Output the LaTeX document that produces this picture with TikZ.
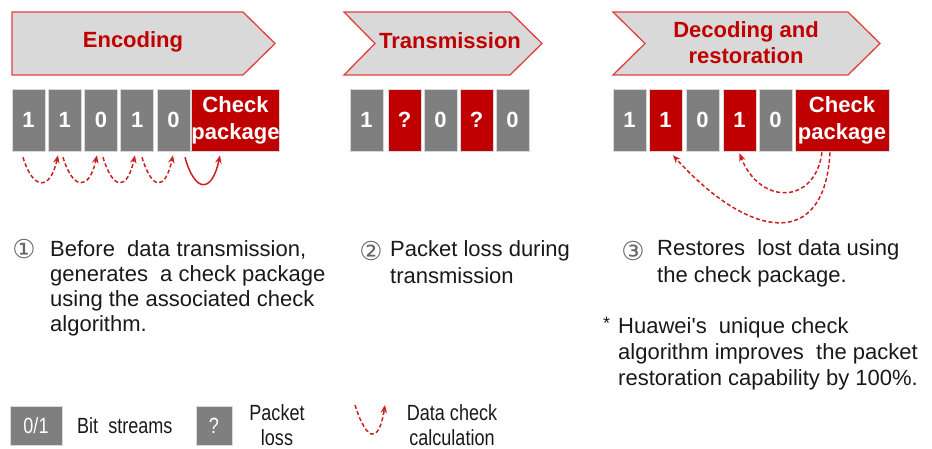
\documentclass[tikz,border=0pt]{standalone}
\usepackage{fontspec}
\setmainfont{Liberation Sans}
\newfontfamily\symfont{DejaVu Sans}
\newfontfamily\narrowfont[FakeStretch=0.82]{Liberation Sans}
\usetikzlibrary{arrows.meta}
\definecolor{hwred}{HTML}{C00000}
\definecolor{hwgray}{HTML}{7F7F7F}
\definecolor{hdrfill}{HTML}{D9D9D9}
\definecolor{hdrline}{HTML}{E04040}
\definecolor{linkred}{HTML}{CC1F1F}
\begin{document}
\begin{tikzpicture}[x=1pt,y=-1pt,
  hdr/.style={fill=hdrfill,draw=hdrline,line width=1.3pt,line join=miter},
  hdrtext/.style={text=hwred,font=\fontsize{22}{26}\selectfont\bfseries,align=center,inner sep=0pt},
  cell/.style={minimum width=33pt,minimum height=62pt,inner sep=0pt,text=white,
    font=\fontsize{22}{27}\selectfont\bfseries,draw=white!85!black,line width=0.6pt,align=center},
  bitcell/.style={cell,fill=hwgray},
  losscell/.style={cell,fill=hwred},
  body/.style={font=\fontsize{22}{25}\selectfont,align=left,inner sep=0pt,anchor=north west,text=black!90},
  num/.style={font=\symfont\fontsize{26}{26}\selectfont,text=black!60,inner sep=0pt},
  legendtext/.style={font=\narrowfont\fontsize{22}{25}\selectfont,align=center,inner sep=0pt,text=black!90},
  calc/.style={draw=linkred,line width=1.5pt,dash pattern=on 4pt off 2.5pt,
    -{Stealth[length=8pt,width=6.5pt]}},
]
\useasboundingbox (0,0) rectangle (932,449);

% ---------- stage banners ----------
\draw[hdr] (12,12) -- (243,12) -- (275,43.5) -- (243,75) -- (12,75) -- cycle;
\node[hdrtext,anchor=base] (encT) at (133,48) {Encoding};

\draw[hdr] (344,12) -- (510,12) -- (542,43.5) -- (510,75) -- (344,75) -- (375,43.5) -- cycle;
\node[hdrtext,anchor=base] (traT) at (450,49) {Transmission};

\draw[hdr] (613,12) -- (848,12) -- (880,43.5) -- (848,75) -- (613,75) -- (645,43.5) -- cycle;
\node[hdrtext,anchor=north] (decT) at (746,21) {Decoding and\\restoration};

% ---------- encoding row ----------
\node[bitcell] (e1) at (28.5,120) {1};
\node[bitcell] (e2) at (64.75,120) {1};
\node[bitcell] (e3) at (101,120) {0};
\node[bitcell] (e4) at (137.25,120) {1};
\node[bitcell] (e5) at (173.5,120) {0};
\node[losscell,minimum width=85pt] (e6) at (235.5,120) {Check\\package};

\draw[calc] ([xshift=-5.5pt,yshift=-6pt]e1.south) .. controls +(10,33) and +(-8,36) .. ([xshift=-6.75pt,yshift=-4pt]e2.south);
\draw[calc] ([xshift=-1.75pt,yshift=-6pt]e2.south) .. controls +(10,33) and +(-8,36) .. ([xshift=-4pt,yshift=-4pt]e3.south);
\draw[calc] ([xshift=2pt,yshift=-6pt]e3.south) .. controls +(10,33) and +(-8,36) .. ([xshift=-2.25pt,yshift=-4pt]e4.south);
\draw[calc] ([xshift=4.75pt,yshift=-6pt]e4.south) .. controls +(10,33) and +(-8,36) .. ([xshift=-0.5pt,yshift=-4pt]e5.south);
\draw[calc,solid] ([xshift=11.5pt,yshift=-6pt]e5.south) .. controls +(10,36) and +(-8,38) .. ([xshift=-15.5pt,yshift=-4pt]e6.south);

% ---------- transmission row ----------
\node[bitcell] (t1) at (366.5,120) {1};
\node[losscell] (t2) at (404.5,120) {?};
\node[bitcell] (t3) at (440.5,120) {0};
\node[losscell] (t4) at (476.5,120) {?};
\node[bitcell] (t5) at (512.5,120) {0};

% ---------- decoding row ----------
\node[bitcell] (d1) at (629.5,120) {1};
\node[losscell] (d2) at (665.5,120) {1};
\node[bitcell] (d3) at (702.5,120) {0};
\node[losscell] (d4) at (739.5,120) {1};
\node[bitcell] (d5) at (775.5,120) {0};
\node[losscell,minimum width=94pt] (d6) at (842,120) {Check\\package};

\draw[calc] ([xshift=-12pt,yshift=-1pt]d6.south) .. controls +(-5,98) and +(77,85) .. ([xshift=7.5pt,yshift=-4pt]d2.south);
\draw[calc] ([xshift=-20pt,yshift=-1pt]d6.south) .. controls +(-7,53) and +(20,52) .. ([xshift=0pt,yshift=-2pt]d4.south);

% ---------- explanations ----------
\node[num] (n1) at (24,249) {①};
\node[body] (x1) at (50,240) {Before\ \ data\hspace{0.3em}transmission,\\generates\ \ a check package\\using the associated check\\algorithm.};

\node[num] (n2) at (371,251) {②};
\node[body,font=\fontsize{22}{27}\selectfont] (x2) at (390,240) {Packet loss during\\transmission};

\node[num] (n3) at (633,251) {③};
\node[body,font=\fontsize{22}{27}\selectfont] (x3) at (657,239) {Restores\ \ lost data using\\the check package.};

\node[body,font=\fontsize{18}{18}\selectfont] (ast) at (603,317) {*};
\node[body,font=\fontsize{22}{26}\selectfont] (x4) at (618,317) {Huawei\textquotesingle s\ \ unique check\\algorithm improves\ \ the packet\\restoration capability by 100\%.};

% ---------- legend ----------
\node[bitcell,minimum width=52pt,minimum height=39pt,font=\narrowfont\fontsize{22}{22}\selectfont] (lg1) at (36,425.5) {0/1};
\node[legendtext,anchor=west] (lt1) at (77,425.5) {Bit\ \ streams};

\node[bitcell,minimum width=36pt,minimum height=39pt,font=\narrowfont\fontsize{22}{22}\selectfont] (lg2) at (214,425.5) {?};
\node[legendtext] (lt2) at (277,425.5) {Packet\\loss};

\coordinate (la) at (355,405);
\coordinate (lb) at (385,405);
\draw[calc] (la) .. controls +(12,38) and +(-6,38) .. (lb);
\node[legendtext] (lt3) at (452,425.5) {Data check\\calculation};
\end{tikzpicture}
\end{document}
